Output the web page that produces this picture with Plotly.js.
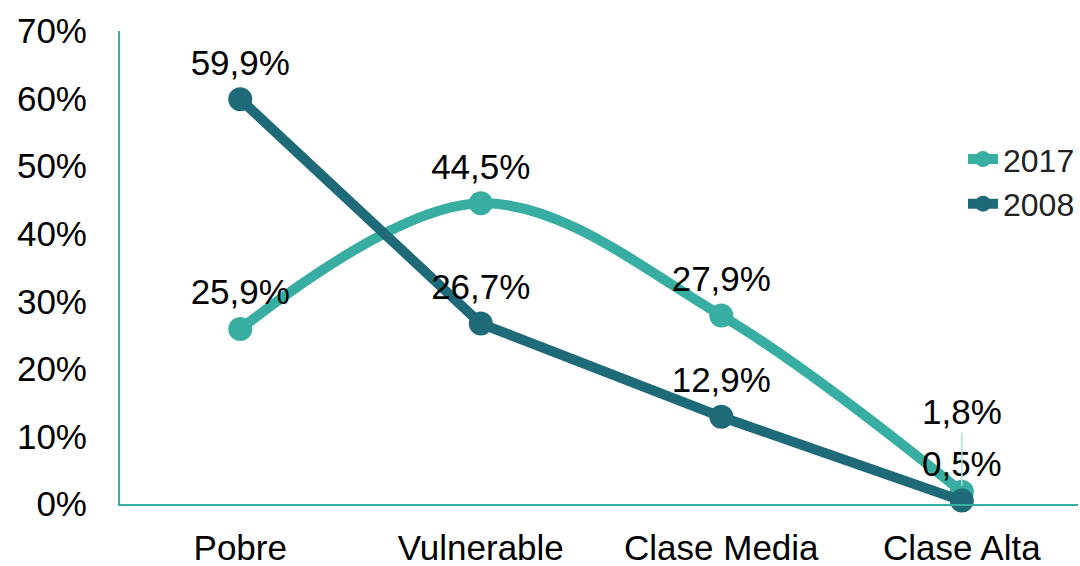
<!DOCTYPE html>
<html>
<head>
<meta charset="utf-8">
<script src="https://cdn.plot.ly/plotly-3.0.1.min.js"></script>
<style>html,body{margin:0;padding:0;background:#fff;}#chart{width:1080px;height:566px;}</style>
</head>
<body>
<div id="chart"></div>
<script>
const categories = ["Pobre", "Vulnerable", "Clase Media", "Clase Alta"];
const values2017 = [25.9, 44.5, 27.9, 1.8];
const values2008 = [59.9, 26.7, 12.9, 0.5];
const labels2017 = ["25,9%", "44,5%", "27,9%", "1,8%"];
const labels2008 = ["59,9%", "26,7%", "12,9%", "0,5%"];
const yTickVals = [0, 10, 20, 30, 40, 50, 60, 70];
const yTickText = ["0%", "10%", "20%", "30%", "40%", "50%", "60%", "70%"];

const c2017 = "#38ada1";
const c2008 = "#1e6a78";
const fontFam = "Liberation Sans, Arial, sans-serif";
const fs = 35;

// labels drawn as text on the traces, except the last 2017 one (leader line)
const text2017 = labels2017.map((t, i) => i === labels2017.length - 1 ? "" : t);

const traces = [
  {
    x: categories, y: values2017, name: "2017", type: "scatter",
    mode: "lines+markers+text", text: text2017, textposition: "top center",
    textfont: {family: fontFam, size: fs, color: "#000"},
    line: {color: c2017, width: 10, shape: "spline", smoothing: 1},
    marker: {color: c2017, size: 24},
    cliponaxis: false
  },
  {
    x: categories, y: values2008, name: "2008", type: "scatter",
    mode: "lines+markers+text", text: labels2008, textposition: "top center",
    textfont: {family: fontFam, size: fs, color: "#000"},
    line: {color: c2008, width: 10},
    marker: {color: c2008, size: 24},
    cliponaxis: false
  }
];

const lastIdx = categories.length - 1;
const annotations = [{
  x: categories[lastIdx], y: values2017[lastIdx], xref: "x", yref: "y",
  text: labels2017[lastIdx], showarrow: true, arrowhead: 0, arrowwidth: 1.5,
  arrowcolor: "#a8e0d9", ax: 0, ay: -80, standoff: 6,
  font: {family: fontFam, size: fs, color: "#000"}
}];

const layout = {
  width: 1080, height: 566,
  margin: {l: 120, r: 0, t: 31, b: 62},
  paper_bgcolor: "#fff", plot_bgcolor: "#fff",
  showlegend: true,
  legend: {
    x: 0.88, y: 0.787, xanchor: "left", yanchor: "top",
    font: {family: fontFam, size: 32, color: "#222"},
    bgcolor: "rgba(0,0,0,0)", tracegroupgap: 0
  },
  xaxis: {
    type: "category", range: [-0.5, 3.483],
    showline: true, linecolor: c2017, linewidth: 2,
    showgrid: false, zeroline: false, ticks: "", ticklabelstandoff: 12,
    tickfont: {family: fontFam, size: fs, color: "#000"}
  },
  yaxis: {
    range: [0, 70], tickvals: yTickVals, ticktext: yTickText,
    showline: true, linecolor: c2017, linewidth: 2,
    showgrid: false, zeroline: false, ticks: "", ticklabelstandoff: 24,
    tickfont: {family: fontFam, size: fs, color: "#000"}
  },
  annotations: annotations
};

Plotly.newPlot("chart", traces, layout, {displayModeBar: false, staticPlot: true});
</script>
</body>
</html>
